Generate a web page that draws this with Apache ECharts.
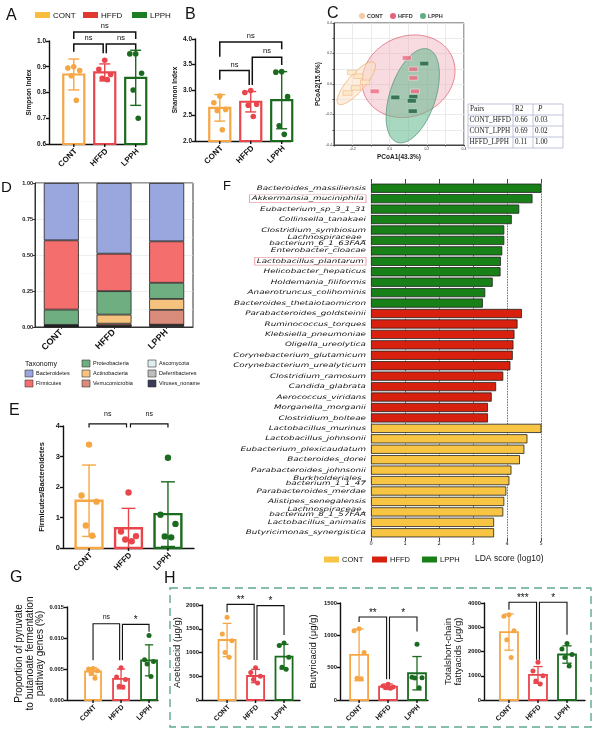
<!DOCTYPE html>
<html>
<head>
<meta charset="utf-8">
<script src="https://cdn.jsdelivr.net/npm/echarts@6/dist/echarts.min.js"></script>
<style>
  html, body { margin: 0; padding: 0; background: #fff; }
  #chart { width: 611px; height: 732px; }
</style>
</head>
<body>
<div id="chart"></div>
<script>
const FONT = 'Liberation Sans, Arial, sans-serif';

const groups = ['CONT', 'HFFD', 'LPPH'];
const groupColors = ['#F7A644', '#E8454C', '#1B6B1F'];
const legendColors = ['#F9BD3E', '#E03A30', '#1D7D22'];

// A: Simpson index
const simpsonMean = [0.870, 0.878, 0.857];
const simpsonSd = [0.060, 0.033, 0.107];
const simpsonDots = [[0.90, 0.895, 0.885, 0.865, 0.77], [0.925, 0.89, 0.87, 0.855, 0.85], [0.95, 0.95, 0.875, 0.81, 0.70]];
const simpsonBrackets = [[0, 1, 0.988, 0.958, 0.952], [1, 2, 0.988, 0.952, 0.966], [0, 2, 1.035, 1.008, 1.008]];
const simpsonSig = ['ns', 'ns', 'ns'];

// B: Shannon index
const shannonMean = [2.65, 2.77, 2.80];
const shannonSd = [0.26, 0.20, 0.56];
const shannonDots = [[2.88, 2.75, 2.62, 2.60, 2.22], [2.99, 2.95, 2.72, 2.70, 2.48], [3.36, 3.35, 2.87, 2.30, 2.13]];
const shannonBrackets = [[0, 1, 3.38, 3.20, 3.10], [1, 2, 3.64, 3.10, 3.49], [0, 2, 3.94, 3.65, 3.80]];
const shannonSig = ['ns', 'ns', 'ns'];

// C: PCoA
const pcoaCont = [[-0.204, 0.075], [-0.168, 0.051], [-0.133, 0.011], [-0.182, -0.026], [-0.227, -0.059]];
const pcoaHffd = [[0.092, 0.171], [0.127, 0.097], [0.127, 0.040], [-0.081, -0.048], [0.136, -0.048]];
const pcoaLpph = [[0.186, 0.134], [0.030, -0.088], [0.127, -0.084], [0.119, -0.110], [0.124, -0.178]];
// ellipse: centre x, centre y, semi-axis a, semi-axis b, angle (deg); HFFD, LPPH, CONT
const pcoaEllipses = [[0.101, 0.051, 0.28, 0.24, 60], [0.124, -0.077, 0.317, 0.125, 76], [-0.18, 0.005, 0.167, 0.05, 55.5]];
const adonisPairs = ['CONT_HFFD', 'CONT_LPPH', 'HFFD_LPPH'];
const adonisR2 = ['0.66', '0.69', '0.11'];
const adonisP = ['0.03', '0.02', '1.00'];

// D: phylum composition
const taxa = ['Bacteroidetes', 'Firmicutes', 'Proteobacteria', 'Actinobacteria', 'Verrucomicrobia', 'Ascomycota', 'Deferribacteres', 'Viruses_noname'];
const bacteroidetes = [0.398, 0.491, 0.405];
const firmicutes = [0.481, 0.260, 0.288];
const proteobacteria = [0.106, 0.163, 0.112];
const actinobacteria = [0.004, 0.063, 0.076];
const verrucomicrobia = [0.003, 0.013, 0.103];
const ascomycota = [0.001, 0.001, 0.001];
const deferribacteres = [0.001, 0.002, 0.003];
const virusesNoname = [0.006, 0.007, 0.012];
const taxaColors = ['#9AA6DE', '#F46E6E', '#6FAE80', '#F5C37E', '#D98C7C', '#DDEFEF', '#BEBEBE', '#3A3A5A'];

// E: Firmicutes/Bacteroidetes
const fbMean = [1.55, 0.65, 1.11];
const fbSd = [1.17, 0.65, 1.06];
const fbDots = [[3.39, 1.72, 1.52, 0.74, 0.40], [1.82, 0.54, 0.39, 0.28, 0.22], [2.96, 1.09, 0.79, 0.38, 0.35]];
const fbBrackets = [[0, 1, 4.07, 3.95, 3.95], [1, 2, 4.07, 3.95, 3.95]];
const fbSig = ['ns', 'ns'];

// F: LEfSe
const fNames = [
  'Bacteroides_massiliensis', 'Akkermansia_muciniphila', 'Eubacterium_sp_3_1_31', 'Collinsella_tanakaei',
  'Clostridium_symbiosum', 'Lachnospiraceae_\nbacterium_6_1_63FAA', 'Enterobacter_cloacae', 'Lactobacillus_plantarum',
  'Helicobacter_hepaticus', 'Holdemania_filiformis', 'Anaerotruncus_colihominis', 'Bacteroides_thetaiotaomicron',
  'Parabacteroides_goldsteinii', 'Ruminococcus_torques', 'Klebsiella_pneumoniae', 'Oligella_ureolytica',
  'Corynebacterium_glutamicum', 'Corynebacterium_urealyticum', 'Clostridium_ramosum', 'Candida_glabrata',
  'Aerococcus_viridans', 'Morganella_morganii', 'Clostridium_bolteae',
  'Lactobacillus_murinus', 'Lactobacillus_johnsonii', 'Eubacterium_plexicaudatum', 'Bacteroides_dorei',
  'Parabacteroides_johnsonii', 'Burkholderiales_\nbacterium_1_1_47', 'Parabacteroides_merdae', 'Alistipes_senegalensis',
  'Lachnospiraceae_\nbacterium_8_1_57FAA', 'Lactobacillus_animalis', 'Butyricimonas_synergistica'
];
const fScores = [
  5.05, 4.75, 4.36, 4.14, 3.92, 3.92, 3.86, 3.82, 3.81, 3.58, 3.36, 3.29,
  4.44, 4.31, 4.22, 4.19, 4.17, 4.10, 3.89, 3.68, 3.55, 3.44, 3.44,
  5.07, 4.60, 4.51, 4.38, 4.13, 4.07, 3.98, 3.92, 3.89, 3.62, 3.62
];
const fGroup = [2, 2, 2, 2, 2, 2, 2, 2, 2, 2, 2, 2, 1, 1, 1, 1, 1, 1, 1, 1, 1, 1, 1, 0, 0, 0, 0, 0, 0, 0, 0, 0, 0, 0];
const fBoxed = ['Akkermansia_muciniphila', 'Lactobacillus_plantarum'];
const fTicks = ['0', '1', '2', '3', '4', '5'];
const fColors = ['#F7C443', '#D8200F', '#178017'];

// G: pyruvate -> butanoate genes
const pyrMean = [0.0046, 0.0034, 0.0064];
const pyrSd = [0.0006, 0.0016, 0.0025];
const pyrDots = [[0.0051, 0.0050, 0.0047, 0.0043, 0.0035], [0.0052, 0.0037, 0.0033, 0.0022, 0.0021], [0.0104, 0.0065, 0.0062, 0.0058, 0.0038]];
const pyrBrackets = [[0, 1, 0.0123, 0.0064, 0.0064], [1, 2, 0.0122, 0.0064, 0.0110]];
const pyrSig = ['ns', '*'];

// H: SCFAs
const aceticMean = [1263, 505, 912];
const aceticSd = [350, 140, 260];
const aceticDots = [[1740, 1390, 1250, 1000, 900], [680, 580, 500, 430, 360], [1200, 1150, 900, 690, 650]];
const aceticBrackets = [[0, 1, 2013, 1846, 842], [1, 2, 1986, 842, 1368]];
const aceticSig = ['**', '*'];

const butyricMean = [698, 207, 414];
const butyricSd = [400, 41, 258];
const butyricDots = [[1101, 1070, 734, 336, 330], [245, 215, 200, 190, 180], [863, 350, 345, 340, 190]];
const butyricBrackets = [[0, 1, 1283, 1205, 320], [1, 2, 1283, 320, 1060]];
const butyricSig = ['**', '*'];

const scfaMean = [2800, 1034, 1876];
const scfaSd = [745, 345, 358];
const scfaDots = [[3520, 3450, 2860, 2480, 1750], [1560, 1200, 1000, 780, 660], [2330, 2100, 1880, 1750, 1400]];
const scfaBrackets = [[0, 1, 4028, 3724, 1655], [1, 2, 4028, 1655, 2690]];
const scfaSig = ['***', '*'];

const jitter = [0, -0.28, 0.28, -0.12, 0.12];
const legInset = 0.05;

const grid = [], xAxis = [], yAxis = [], series = [], graphic = [];

const txt = (x, y, text, o = {}) => {
  const style = Object.assign({ text, fill: '#111', fontFamily: FONT, fontSize: 8, align: 'left', verticalAlign: 'middle' }, o);
  style.textAlign = style.align;
  style.textVerticalAlign = style.verticalAlign;
  return { type: 'text', x, y, silent: true, style };
};

function addDotBarPanel(p) {
  const gi = grid.length;
  const base = p.yRange[0];
  grid.push({ left: p.box[0], top: p.box[1], width: p.box[2], height: p.box[3] });
  xAxis.push({
    gridIndex: gi, type: 'value', min: p.xRange[0], max: p.xRange[1],
    axisLine: { show: true, onZero: false, lineStyle: { color: '#111', width: 1.4 } },
    axisTick: { show: false }, axisLabel: { show: false }, splitLine: { show: false }
  });
  yAxis.push({
    gridIndex: gi, type: 'value', min: p.yRange[0], max: p.yRange[1], interval: p.yStep,
    axisLine: { show: true, onZero: false, lineStyle: { color: '#111', width: 1.4 } },
    axisTick: { show: true, length: 3, lineStyle: { color: '#111', width: 1.4 } },
    axisLabel: { fontFamily: FONT, fontSize: p.tickSize, fontWeight: 'bold', color: '#111', margin: 3, formatter: p.yFormat },
    splitLine: { show: false },
    name: p.yName, nameLocation: 'middle', nameGap: p.nameGap,
    nameTextStyle: { fontFamily: FONT, fontSize: p.nameSize, fontWeight: p.nameWeight, color: '#111', lineHeight: p.nameSize * 1.05 }
  });
  series.push({
    type: 'custom', xAxisIndex: gi, yAxisIndex: gi, silent: true,
    data: groups.map((g, i) => [i, p.mean[i], p.sd[i]]),
    renderItem: (params, api) => {
      const i = api.value(0), m = api.value(1), s = api.value(2);
      const c = groupColors[i];
      const top = api.coord([i, m]);
      const bot = api.coord([i, base]);
      const hi = api.coord([i, m + s]);
      const lo = api.coord([i, Math.max(m - s, base)]);
      const w = api.size([p.barWidth, 0])[0];
      const cap = w * 0.26;
      const ls = { stroke: c, lineWidth: p.errWidth, fill: null };
      return {
        type: 'group', children: [
          { type: 'rect', shape: { x: top[0] - w / 2, y: top[1], width: w, height: bot[1] - top[1] }, style: { fill: '#fff', stroke: c, lineWidth: p.barLine } },
          { type: 'line', shape: { x1: top[0], y1: hi[1], x2: top[0], y2: lo[1] }, style: ls },
          { type: 'line', shape: { x1: top[0] - cap, y1: hi[1], x2: top[0] + cap, y2: hi[1] }, style: ls },
          { type: 'line', shape: { x1: top[0] - cap, y1: lo[1], x2: top[0] + cap, y2: lo[1] }, style: ls }
        ]
      };
    }
  });
  series.push({
    type: 'custom', xAxisIndex: gi, yAxisIndex: gi, silent: true,
    data: p.dots.flatMap((vals, i) => vals.map((v, k) => [i, v, k])),
    renderItem: (params, api) => {
      const i = api.value(0);
      const pt = api.coord([i + jitter[api.value(2)] * p.barWidth, api.value(1)]);
      return { type: 'circle', shape: { cx: pt[0], cy: pt[1], r: p.dotR }, style: { fill: groupColors[i] } };
    }
  });
  series.push({
    type: 'custom', xAxisIndex: gi, yAxisIndex: gi, silent: true,
    data: p.brackets,
    renderItem: (params, api) => {
      const from = api.value(0), to = api.value(1), y = api.value(2);
      const x1 = from + (from === 1 ? legInset : 0);
      const x2 = to - (to === 1 ? legInset : 0);
      const a = api.coord([x1, api.value(3)]), b = api.coord([x1, y]);
      const c = api.coord([x2, y]), d = api.coord([x2, api.value(4)]);
      const sig = p.sig[params.dataIndex];
      return {
        type: 'group', children: [
          { type: 'polyline', shape: { points: [a, b, c, d] }, style: { stroke: '#111', lineWidth: p.brLine, fill: null } },
          { type: 'text', x: (b[0] + c[0]) / 2, y: b[1] - (sig === 'ns' ? p.sigGap : p.sigGap - 4),
            style: { text: sig, fill: '#111', fontFamily: FONT, fontSize: sig === 'ns' ? p.sigSize : p.sigSize + 3,
              align: 'center', textAlign: 'center', verticalAlign: 'bottom', textVerticalAlign: 'bottom' } }
        ]
      };
    }
  });
  series.push({
    type: 'custom', xAxisIndex: gi, yAxisIndex: gi, silent: true,
    data: groups.map((g, i) => [i, base]),
    renderItem: (params, api) => {
      const i = api.value(0);
      const pt = api.coord([i, base]);
      return {
        type: 'group', children: [
          { type: 'line', shape: { x1: pt[0], y1: pt[1], x2: pt[0], y2: pt[1] + 3 }, style: { stroke: '#111', lineWidth: 1.4 } },
          { type: 'text', x: pt[0] + 2, y: pt[1] + 6, rotation: Math.PI / 4,
            style: { text: groups[i], fill: '#111', fontFamily: FONT, fontSize: p.catSize, fontWeight: 'bold',
              align: 'right', textAlign: 'right', verticalAlign: 'middle', textVerticalAlign: 'middle' } }
        ]
      };
    }
  });
}

// A
addDotBarPanel({
  box: [49, 41, 96, 103], xRange: [-0.8, 2.3], yRange: [0.6, 1.0], yStep: 0.1, yFormat: v => v.toFixed(1),
  mean: simpsonMean, sd: simpsonSd, dots: simpsonDots, brackets: simpsonBrackets, sig: simpsonSig,
  yName: 'Simpson Index', nameGap: 16, nameSize: 6.5, nameWeight: 'bold', tickSize: 6.5, catSize: 8,
  barWidth: 0.68, barLine: 2.2, errWidth: 1.4, dotR: 2.8, brLine: 1.5, sigGap: 2, sigSize: 7.5
});
// B
addDotBarPanel({
  box: [195, 39, 96, 102], xRange: [-0.8, 2.3], yRange: [2.0, 4.0], yStep: 0.5, yFormat: v => v.toFixed(1),
  mean: shannonMean, sd: shannonSd, dots: shannonDots, brackets: shannonBrackets, sig: shannonSig,
  yName: 'Shannon Index', nameGap: 15, nameSize: 6.5, nameWeight: 'bold', tickSize: 6.5, catSize: 8,
  barWidth: 0.68, barLine: 2.2, errWidth: 1.4, dotR: 2.8, brLine: 1.5, sigGap: 2, sigSize: 7.5
});
// E
addDotBarPanel({
  box: [63, 426, 131, 122], xRange: [-0.66, 2.66], yRange: [0, 4], yStep: 1, yFormat: v => v.toFixed(0),
  mean: fbMean, sd: fbSd, dots: fbDots, brackets: fbBrackets, sig: fbSig,
  yName: 'Firmicutes/Bacteroidetes', nameGap: 17, nameSize: 7.5, nameWeight: 'bold', tickSize: 7.5, catSize: 8,
  barWidth: 0.68, barLine: 2.4, errWidth: 1.4, dotR: 3.2, brLine: 1.2, sigGap: 6, sigSize: 7
});
// G
addDotBarPanel({
  box: [67, 607, 91, 93], xRange: [-0.93, 2.32], yRange: [0, 0.015], yStep: 0.005, yFormat: v => v.toFixed(3),
  mean: pyrMean, sd: pyrSd, dots: pyrDots, brackets: pyrBrackets, sig: pyrSig,
  yName: 'Proportion of pyruvate\nto butanoate fermentation\npathway genes (%)', nameGap: 20, nameSize: 10, nameWeight: 'normal', tickSize: 5.8, catSize: 7,
  barWidth: 0.57, barLine: 1.8, errWidth: 1.3, dotR: 2.5, brLine: 1.1, sigGap: 3, sigSize: 7
});
// H1
addDotBarPanel({
  box: [202, 605, 98, 95], xRange: [-0.88, 2.56], yRange: [0, 2000], yStep: 500, yFormat: v => String(v),
  mean: aceticMean, sd: aceticSd, dots: aceticDots, brackets: aceticBrackets, sig: aceticSig,
  yName: 'Aceticacid (μg/g)', nameGap: 17, nameSize: 9.5, nameWeight: 'normal', tickSize: 5.8, catSize: 7,
  barWidth: 0.6, barLine: 1.8, errWidth: 1.3, dotR: 2.5, brLine: 1.1, sigGap: 3, sigSize: 7
});
// H2
addDotBarPanel({
  box: [340, 603, 88, 97], xRange: [-0.66, 2.38], yRange: [0, 1500], yStep: 500, yFormat: v => String(v),
  mean: butyricMean, sd: butyricSd, dots: butyricDots, brackets: butyricBrackets, sig: butyricSig,
  yName: 'Butyricacid (μg/g)', nameGap: 22, nameSize: 9.5, nameWeight: 'normal', tickSize: 5.8, catSize: 7,
  barWidth: 0.62, barLine: 1.8, errWidth: 1.3, dotR: 2.5, brLine: 1.1, sigGap: 3, sigSize: 7
});
// H3
addDotBarPanel({
  box: [484, 603, 101, 97], xRange: [-0.86, 2.62], yRange: [0, 4000], yStep: 1000, yFormat: v => String(v),
  mean: scfaMean, sd: scfaSd, dots: scfaDots, brackets: scfaBrackets, sig: scfaSig,
  yName: 'Totalshort-chain\nfattyacids (μg/g)', nameGap: 21, nameSize: 9.5, nameWeight: 'normal', tickSize: 5.8, catSize: 7,
  barWidth: 0.62, barLine: 1.8, errWidth: 1.3, dotR: 2.5, brLine: 1.1, sigGap: 3, sigSize: 7
});

// C: PCoA
const cGi = grid.length;
grid.push({ left: 334, top: 23, width: 130, height: 122, show: true, borderColor: '#444', borderWidth: 1, backgroundColor: '#fff' });
const evenTenth = v => Math.abs(Math.round(v * 10)) % 2 === 0;
xAxis.push({
  gridIndex: cGi, type: 'value', min: -0.3, max: 0.4, interval: 0.1,
  axisLine: { show: true, onZero: false, lineStyle: { color: '#444' } },
  axisTick: { show: true, length: 1.5, lineStyle: { color: '#444' } },
  axisLabel: { fontSize: 3.5, color: '#333', margin: 2, formatter: v => evenTenth(v) ? v.toFixed(1) : '' },
  splitLine: { show: true, lineStyle: { color: '#e6e6e6', width: 0.8 } },
  name: 'PCoA1(43.3%)', nameLocation: 'middle', nameGap: 9,
  nameTextStyle: { fontFamily: FONT, fontSize: 6.5, fontWeight: 'bold', color: '#222' }
});
yAxis.push({
  gridIndex: cGi, type: 'value', min: -0.4, max: 0.4, interval: 0.1,
  axisLine: { show: true, onZero: false, lineStyle: { color: '#444' } },
  axisTick: { show: true, length: 1.5, lineStyle: { color: '#444' } },
  axisLabel: { fontSize: 3.5, color: '#333', margin: 2, formatter: v => evenTenth(v) ? v.toFixed(1) : '' },
  splitLine: { show: true, lineStyle: { color: '#e6e6e6', width: 0.8 } },
  name: 'PCoA2(15.6%)', nameLocation: 'middle', nameGap: 10,
  nameTextStyle: { fontFamily: FONT, fontSize: 6.5, fontWeight: 'bold', color: '#222' }
});
const ellipseStyles = [
  { fill: 'rgba(238,170,182,0.42)', stroke: '#DE6A7C', lineWidth: 0.8 },
  { fill: 'rgba(98,184,140,0.55)', stroke: '#5E987C', lineWidth: 0.8 },
  { fill: 'rgba(251,224,196,0.55)', stroke: '#EFAE6E', lineWidth: 0.8 }
];
series.push({
  type: 'custom', xAxisIndex: cGi, yAxisIndex: cGi, silent: true, z: 2,
  data: pcoaEllipses,
  renderItem: (params, api) => {
    const cx = api.value(0), cy = api.value(1), a = api.value(2), b = api.value(3);
    const t = api.value(4) * Math.PI / 180;
    const pts = [];
    for (let k = 0; k < 90; k++) {
      const u = k / 90 * 2 * Math.PI;
      pts.push(api.coord([
        cx + a * Math.cos(u) * Math.cos(t) - b * Math.sin(u) * Math.sin(t),
        cy + a * Math.cos(u) * Math.sin(t) + b * Math.sin(u) * Math.cos(t)
      ]));
    }
    return { type: 'polygon', shape: { points: pts }, style: ellipseStyles[params.dataIndex] };
  }
});
[[pcoaCont, '#FCE6C6', '#EDA560'], [pcoaHffd, '#EC6A80', '#fff'], [pcoaLpph, '#1F5E3E', '#cfe']].forEach(([pts, fill, border]) => {
  series.push({
    type: 'scatter', xAxisIndex: cGi, yAxisIndex: cGi, silent: true, z: 5,
    data: pts, symbol: 'rect', symbolSize: [9, 4.5],
    itemStyle: { color: fill, borderColor: border, borderWidth: 0.5 }
  });
});

// D: stacked composition
const dGi = grid.length;
grid.push({ left: 35, top: 183, width: 158, height: 144, show: true, borderColor: '#333', borderWidth: 1, backgroundColor: '#fff' });
xAxis.push({
  gridIndex: dGi, type: 'category', data: groups,
  axisLine: { show: true, lineStyle: { color: '#333' } },
  axisTick: { show: true, alignWithLabel: true, length: 2, lineStyle: { color: '#333' } },
  axisLabel: { rotate: 45, fontFamily: FONT, fontSize: 9, fontWeight: 'bold', color: '#111', margin: 4 },
  splitLine: { show: false }
});
yAxis.push({
  gridIndex: dGi, type: 'value', min: 0, max: 1, interval: 0.25,
  axisLine: { show: true, onZero: false, lineStyle: { color: '#333' } },
  axisTick: { show: true, length: 2, lineStyle: { color: '#333' } },
  axisLabel: { fontFamily: FONT, fontSize: 5.5, fontWeight: 'bold', color: '#111', margin: 2, formatter: v => v.toFixed(2) },
  splitLine: { show: true, lineStyle: { color: '#e2e2e2', width: 0.6 } },
  minorTick: { show: false, splitNumber: 2 },
  minorSplitLine: { show: true, lineStyle: { color: '#f0f0f0', width: 0.5 } }
});
const taxaValues = [bacteroidetes, firmicutes, proteobacteria, actinobacteria, verrucomicrobia, ascomycota, deferribacteres, virusesNoname];
for (let t = taxa.length - 1; t >= 0; t--) {
  series.push({
    type: 'bar', name: taxa[t], xAxisIndex: dGi, yAxisIndex: dGi, stack: 'phylum', silent: true,
    data: taxaValues[t], barWidth: 35,
    itemStyle: { color: taxaColors[t], borderColor: '#222', borderWidth: 0.8 }
  });
}

// F: LEfSe LDA
const fGi = grid.length;
grid.push({ left: 371, top: 183, width: 170, height: 355 });
xAxis.push({
  gridIndex: fGi, type: 'value', min: 0, max: 5, interval: 1, position: 'bottom',
  axisLine: { show: false },
  axisTick: { show: true, length: 3, lineStyle: { color: '#111', width: 0.8 } },
  axisLabel: { fontFamily: 'DejaVu Sans', fontSize: 5, color: '#111', margin: 3, formatter: (v, i) => fTicks[i] },
  splitLine: { show: true, lineStyle: { type: 'dotted', color: '#222', width: 0.8 } }
});
xAxis.push({
  gridIndex: fGi, type: 'value', min: 0, max: 5, interval: 1, position: 'top',
  axisLine: { show: false },
  axisTick: { show: true, length: 4, lineStyle: { color: '#111', width: 0.8 } },
  axisLabel: { show: false }, splitLine: { show: false }
});
yAxis.push({
  gridIndex: fGi, type: 'category', inverse: true, data: fNames,
  axisLine: { show: false }, axisTick: { show: false }, axisLabel: { show: false }
});
series.push({
  type: 'bar', xAxisIndex: fGi, yAxisIndex: fGi, silent: true, barCategoryGap: '12%',
  data: fScores.map((v, i) => ({ value: v, itemStyle: { color: fColors[fGroup[i]] } })),
  itemStyle: { borderColor: '#222', borderWidth: 0.8 }
});
// species names: the LEfSe figure text is stretched horizontally, so draw it scaled
series.push({
  type: 'custom', xAxisIndex: fGi, yAxisIndex: fGi, silent: true,
  data: fNames.map((n, i) => [0, i]),
  renderItem: (params, api) => {
    const name = fNames[params.dataIndex];
    const pt = api.coord([0, api.value(1)]);
    const boxed = fBoxed.includes(name);
    const style = {
      text: name, fill: '#111', fontFamily: 'DejaVu Sans', fontSize: 6.1, fontStyle: 'italic', lineHeight: 5.3,
      align: 'right', textAlign: 'right', verticalAlign: 'middle', textVerticalAlign: 'middle'
    };
    if (boxed) Object.assign(style, { borderColor: '#E9A3AB', borderWidth: 0.7, padding: [1.5, 1.5, 1, 1.5] });
    return { type: 'text', x: pt[0] - 5, y: pt[1], scaleX: 1.44, scaleY: 1, style };
  }
});

// ---- graphics: panel letters, legends, table, frame
[['A', 6, 16, 16], ['B', 185, 15, 16], ['C', 327, 14, 16], ['D', 1, 188, 15], ['E', 9, 411, 16],
 ['F', 223, 186, 13], ['G', 10, 578, 16], ['H', 164, 579, 16]].forEach(([l, x, y, s]) => {
  graphic.push(txt(x, y, l, { fontSize: s }));
});

groups.forEach((g, i) => {
  const x = [35, 83, 132][i];
  graphic.push({ type: 'rect', silent: true, shape: { x, y: 12, width: 15, height: 6 }, style: { fill: legendColors[i] } });
  graphic.push(txt(x + 18, 15.5, g, { fontSize: 8 }));
});

const cLegend = ['#F6C9A0', '#E8607A', '#5FAF85'];
groups.forEach((g, i) => {
  const x = [362, 393, 423][i];
  graphic.push({ type: 'circle', silent: true, shape: { cx: x, cy: 16, r: 3 }, style: { fill: cLegend[i] } });
  graphic.push(txt(x + 5, 16.5, g, { fontSize: 5.5, fontWeight: 'bold', fill: '#333' }));
});

const tCols = [468, 513, 533, 563];
const tRows = [104, 115, 126, 137, 148];
tRows.forEach(y => graphic.push({ type: 'line', silent: true, shape: { x1: tCols[0], y1: y, x2: tCols[3], y2: y }, style: { stroke: '#AEB6CF', lineWidth: 0.8 } }));
tCols.forEach(x => graphic.push({ type: 'line', silent: true, shape: { x1: x, y1: tRows[0], x2: x, y2: tRows[4] }, style: { stroke: '#AEB6CF', lineWidth: 0.8 } }));
const serif = { fontFamily: 'Liberation Serif, DejaVu Serif, serif', fontSize: 7.2, fill: '#222' };
const rowMid = r => (tRows[r] + tRows[r + 1]) / 2;
graphic.push(txt(tCols[0] + 2, rowMid(0), 'Pairs', serif));
graphic.push(txt(tCols[1] + 2, rowMid(0), 'R2', serif));
graphic.push(txt(tCols[2] + 5, rowMid(0), 'P', Object.assign({ fontStyle: 'italic' }, serif)));
adonisPairs.forEach((pair, r) => {
  graphic.push(txt(tCols[0] + 1.5, rowMid(r + 1), pair, serif));
  graphic.push(txt(tCols[1] + 2, rowMid(r + 1), adonisR2[r], serif));
  graphic.push(txt(tCols[2] + 2, rowMid(r + 1), adonisP[r], serif));
});

graphic.push(txt(25, 364, 'Taxonomy', { fontSize: 7 }));
const dLegendSlots = [[25, 373.5], [25, 383.5], [82, 363.5], [82, 373.5], [82, 383.5], [148, 363.5], [148, 373.5], [148, 383.5]];
taxa.forEach((name, t) => {
  const [x, y] = dLegendSlots[t];
  graphic.push({ type: 'rect', silent: true, shape: { x, y: y - 3.5, width: 8, height: 7 }, style: { fill: taxaColors[t], stroke: '#333', lineWidth: 0.6 } });
  graphic.push(txt(x + 11, y, name, { fontSize: 5.5 }));
});

groups.forEach((g, i) => {
  const x = [324, 372, 422][i];
  graphic.push({ type: 'rect', silent: true, shape: { x, y: 556.5, width: 15, height: 6 }, style: { fill: fColors[i] } });
  graphic.push(txt(x + 18, 560, g, { fontSize: 7.5 }));
});
graphic.push(txt(475, 559, 'LDA score (log10)', { fontSize: 8.5 }));

graphic.push({ type: 'rect', silent: true, shape: { x: 170, y: 588, width: 421, height: 139 },
  style: { fill: null, stroke: '#5FA98A', lineWidth: 1.4, lineDash: [8, 5] } });

const chart = echarts.init(document.getElementById('chart'));
chart.setOption({
  animation: false,
  backgroundColor: '#fff',
  textStyle: { fontFamily: FONT },
  grid, xAxis, yAxis, series, graphic
});
</script>
</body>
</html>
